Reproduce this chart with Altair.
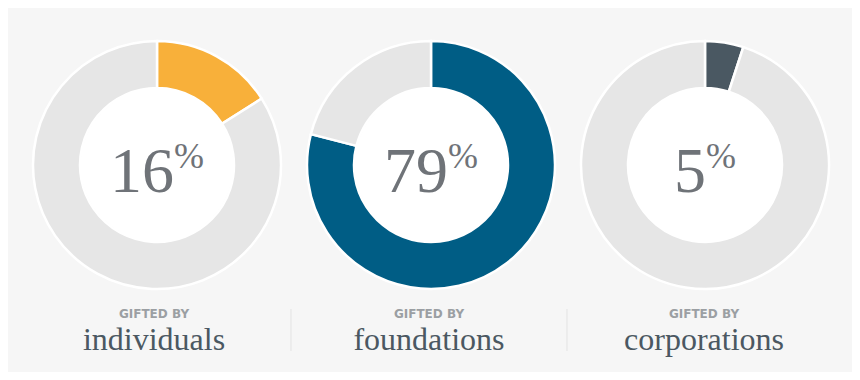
import altair as alt
import pandas as pd

# ---- data ----
groups = ["individuals", "foundations", "corporations"]
shares = [16, 79, 5]
slice_colors = ["#f8b03a", "#005d85", "#4a5862"]
rest_color = "#e6e6e6"
kicker = "GIFTED BY"

# ---- layout (chart px; page offset 8) ----
W, H = 844, 364
donut_x = [149, 697]   # first and last donut centre
label_x = [146, 696]
cy = 157
R_OUT, R_IN = 124, 77

rows = []
for i, (g, s, c) in enumerate(zip(groups, shares, slice_colors)):
    rows.append({"group": g, "slot": i, "part": 0, "value": s, "color": c})
    rows.append({"group": g, "slot": i, "part": 1, "value": 100 - s, "color": rest_color})
df = pd.DataFrame(rows)

lab = pd.DataFrame({"group": groups, "slot": list(range(len(groups))), "kicker": [kicker] * 3})


def xs(rng):
    return alt.X("slot:Q", scale=alt.Scale(domain=[0, len(groups) - 1], range=rng),
                 axis=None, stack=None)


arc = alt.Chart(df).transform_stack(
    stack="value", groupby=["group"], as_=["v0", "v1"],
    sort=[alt.SortField("part", order="ascending")],
).mark_arc(innerRadius=R_IN, outerRadius=R_OUT, stroke="white", strokeWidth=2.5).encode(
    x=xs(donut_x),
    y=alt.value(cy),
    theta=alt.Theta("v0:Q", scale=alt.Scale(domain=[0, 100]), stack=None),
    theta2="v1:Q",
    color=alt.Color("color:N", scale=None),
)

# white inner discs (symbol size = diameter^2)
disc = alt.Chart(lab).mark_circle(color="white", opacity=1, strokeWidth=0,
                                  size=(2 * (R_IN - 0.5)) ** 2).encode(
    x=xs(donut_x),
    y=alt.value(cy),
)
layers = [arc, disc]

# centre numbers
FS_NUM, FS_PCT = 64, 36
for i, (g, s) in enumerate(zip(groups, shares)):
    n = len(str(s))
    wd, wp = 0.5 * FS_NUM, 0.833 * FS_PCT
    right = -(wd * n + wp) / 2 + wd * n
    t = pd.DataFrame({"slot": [i], "num": [str(s)], "pct": ["%"]})
    num = alt.Chart(t).mark_text(font="Liberation Serif", fontSize=FS_NUM, color="#6f7378",
                                 align="right", baseline="alphabetic", dx=right).encode(
        x=xs(donut_x), y=alt.value(cy + 27), text="num:N")
    pct = alt.Chart(t).mark_text(font="Liberation Serif", fontSize=FS_PCT, color="#6f7378",
                                 align="left", baseline="alphabetic", dx=right).encode(
        x=xs(donut_x), y=alt.value(cy + 3), text="pct:N")
    layers += [num, pct]

kick = alt.Chart(lab).mark_text(font="DejaVu Sans", fontWeight="bold", fontSize=12, color="#9b9fa3",
                                align="center", baseline="alphabetic").encode(
    x=xs(label_x), y=alt.value(310), text="kicker:N")
name = alt.Chart(lab).mark_text(font="Liberation Serif", fontSize=32, color="#4b5862",
                                align="center", baseline="alphabetic").encode(
    x=xs(label_x), y=alt.value(342), text="group:N")
layers += [kick, name]

sep = pd.DataFrame({"k": [0]})
for xv in [283, 559]:
    layers.append(alt.Chart(sep).mark_rule(color="#e3e3e3", strokeWidth=1).encode(
        x=alt.value(xv), y=alt.value(301), y2=alt.value(343)))

chart = alt.layer(*layers).resolve_scale(x="independent").properties(
    width=W, height=H, padding=0, autosize=alt.AutoSizeParams(type="none"),
    background="#f6f6f6",
).configure_view(stroke=None)

chart.save("out.html", embed_options={"renderer": "svg", "actions": False})
